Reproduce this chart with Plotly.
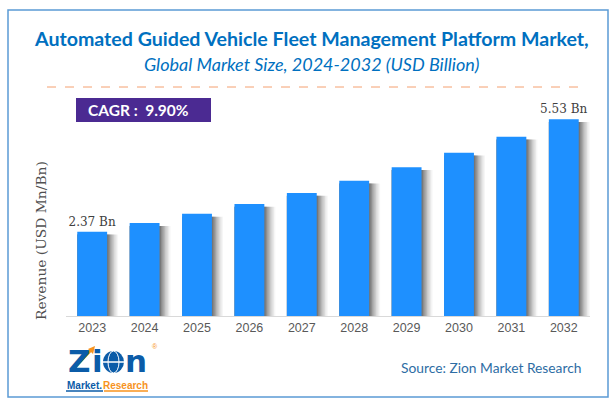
import plotly.graph_objects as go

years = ["2023","2024","2025","2026","2027","2028","2029","2030","2031","2032"]
revenue = [2.37,2.61,2.87,3.15,3.46,3.80,4.18,4.59,5.04,5.53]
bar_labels = ["2.37 Bn","","","","","","","","","5.53 Bn"]
shadow_alpha = [0.05,0.07,0.09,0.11,0.14,0.18,0.24,0.32]

fig = go.Figure()
n = len(shadow_alpha)
for i, a in enumerate(shadow_alpha):
    fig.add_trace(go.Bar(x=years, y=[v-0.08 for v in revenue], width=0.57+0.21*(1-i/n), offset=-0.285,
                         marker=dict(color=f"rgba(70,70,70,{a})", line_width=0), hoverinfo="skip", showlegend=False))
fig.add_trace(go.Bar(x=years, y=revenue, width=0.57, offset=-0.285, marker=dict(color="#1E90FF", line_width=0),
                     text=bar_labels, textposition="outside", cliponaxis=False, constraintext="none",
                     textfont=dict(family="DejaVu Serif", size=12, color="#404040"), showlegend=False))

W, H = 616, 405
L, R, T, B = 66, 26, 100, 89
fig.update_layout(width=W, height=H, margin=dict(l=L,r=R,t=T,b=B), paper_bgcolor="white", plot_bgcolor="white",
    barmode="overlay", bargap=0.4, font=dict(family="Liberation Sans"),
    xaxis=dict(type="category", showline=True, linecolor="#d9d9d9", linewidth=1, ticks="", tickfont=dict(family="Liberation Sans", size=12.5, color="#595959"), fixedrange=True),
    yaxis=dict(range=[0,6.07], visible=False, fixedrange=True))
pw, ph = W-L-R, H-T-B
def X(x): return (x-L)/pw
def Y(y): return 1-(y-T)/ph

def note(text, x, y, size, color, family="Lato", xanchor="center", **k):
    fig.add_annotation(xref="paper", yref="paper", x=X(x), y=Y(y), text=text, showarrow=False, xanchor=xanchor, yanchor="middle",
                       font=dict(family=family, size=size, color=color), **k)
def rect(x0,y0,x1,y1,**k):
    fig.add_shape(type="rect", xref="paper", yref="paper", x0=X(x0), y0=Y(y0), x1=X(x1), y1=Y(y1), **k)
def oval(x0,y0,x1,y1,**k):
    fig.add_shape(type="circle", xref="paper", yref="paper", x0=X(x0), y0=Y(y0), x1=X(x1), y1=Y(y1), **k)

rect(8,10,608,397, line=dict(color="#5B9BD5", width=1.5), fillcolor="rgba(0,0,0,0)", layer="below")
note("<b>Automated Guided Vehicle Fleet Management Platform Market,</b>", 311, 38, 19.6, "#0070C0")
note("<i>Global Market Size, 2024-2032 (USD Billion)</i>", 311, 64, 18, "#0070C0")
fig.add_shape(type="line", xref="paper", yref="paper", x0=X(47), x1=X(581), y0=Y(87), y1=Y(87), line=dict(color="#F4A070", width=1, dash="dash"))
rect(76,98,211,122, fillcolor="#4B2A92", line_width=0)
note("<b>CAGR :  9.90%</b>", 138, 110, 15.5, "white")
note("Revenue (USD Mn/Bn)", 41, 241, 13.8, "#505050", family="DejaVu Serif", textangle=-90)
note("Source: Zion Market Research", 491, 367, 13.8, "#2E6DA4")
# logo
blue, orange = "#0B5CA8", "#F7931E"
note("<b>Z</b>", 79, 361, 31, blue, family="DejaVu Sans")
fig.add_shape(type="line", xref="paper", yref="paper", x0=X(72), y0=Y(370), x1=X(92), y1=Y(349), line=dict(color=orange, width=3))
fig.add_shape(type="path", xref="paper", yref="paper", path=f"M {X(95)} {Y(346)} L {X(88)} {Y(349)} L {X(93)} {Y(354)} Z", fillcolor=orange, line_width=0)
note("<b>i</b>", 97, 361, 31, blue, family="DejaVu Sans")
oval(103,351,124,373, fillcolor=blue, line_width=0)
oval(108,351,119,373, fillcolor="rgba(0,0,0,0)", line=dict(color="white", width=1))
rect(103,362,124,362, line=dict(color="white", width=1))
note("<b>n</b>", 136, 361, 31, blue, family="DejaVu Sans")
note("®", 155, 346, 7, orange, family="Liberation Sans")
note("<b>Market.</b>", 84, 385, 10, blue, family="Liberation Sans")
note("<b>Research</b>", 125, 385, 10, orange, family="Liberation Sans")
rect(66,391,103,391, line=dict(color=blue, width=1))
rect(104,391,148,391, line=dict(color=orange, width=1))

fig.write_html("out.html", config=dict(displayModeBar=False), post_script="document.body.style.margin='0';")
